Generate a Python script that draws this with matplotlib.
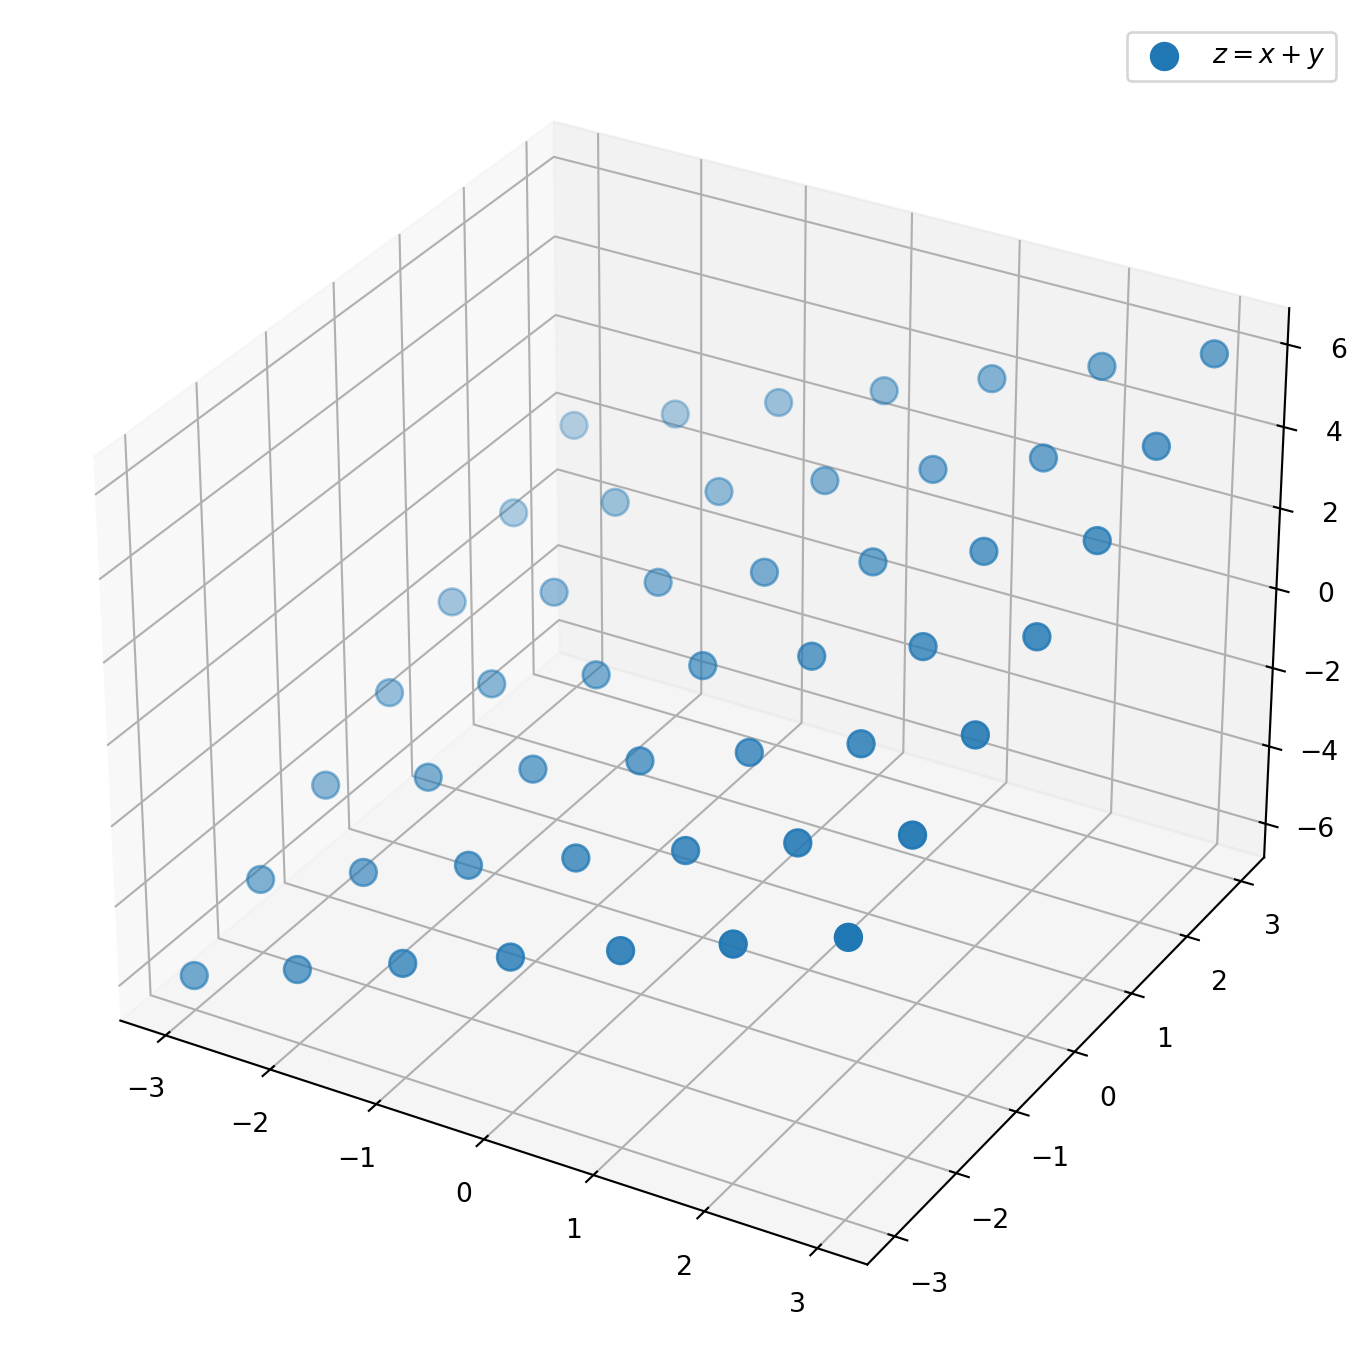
import numpy as np
import matplotlib
matplotlib.use("Agg")
import matplotlib.pyplot as plt

# grid values
x_vals = [-3, -2, -1, 0, 1, 2, 3]
y_vals = [-3, -2, -1, 0, 1, 2, 3]
label = r"$z = x + y$"

x, y = np.meshgrid(x_vals, y_vals)
z = x + y

fig = plt.figure(figsize=(7.125, 7.125), dpi=192)
ax = fig.add_subplot(projection="3d")
ax.set_position([0.0146, 0.0143, 0.972, 0.972])
ax.scatter(x.ravel(), y.ravel(), z.ravel(), s=100, label=label)
ax.legend()

plt.savefig("out.png")
